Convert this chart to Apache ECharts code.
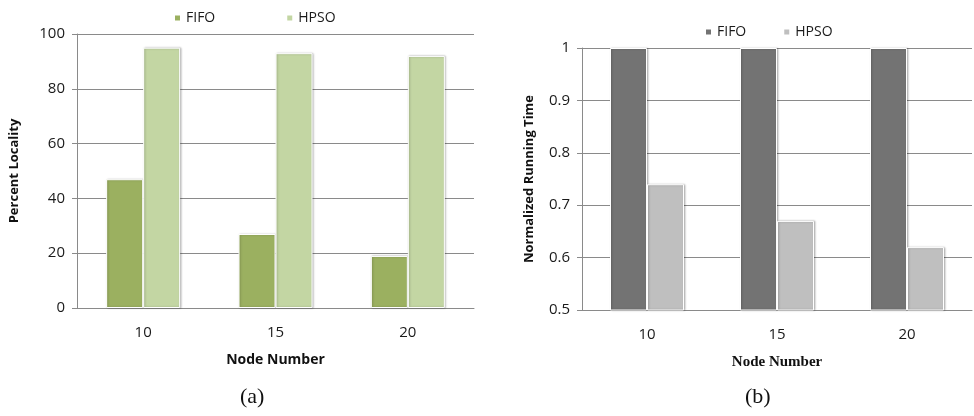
<!DOCTYPE html>
<html>
<head>
<meta charset="utf-8">
<script src="https://cdn.jsdelivr.net/npm/echarts@6/dist/echarts.min.js"></script>
<style>
  html, body { margin: 0; padding: 0; background: #fff; }
  #chart { width: 974px; height: 416px; }
</style>
</head>
<body>
<div id="chart"></div>
<script>
// Node counts on the x axis (shared by both panels)
const nodeCounts = ['10', '15', '20'];

// Panel (a): percent locality
const localityFIFO = [47, 27, 19];
const localityHPSO = [95, 93, 92];

// Panel (b): normalized running time
const runtimeFIFO = [1, 1, 1];
const runtimeHPSO = [0.74, 0.67, 0.62];

const uiFont = '"Open Sans", Lato, sans-serif';
const gridColor = '#8a8a8a';

const chart = echarts.init(document.getElementById('chart'), null, { renderer: 'canvas' });

function barStyle(color) {
  return {
    color: color,
    borderColor: '#ffffff',
    borderWidth: 1,
    shadowColor: 'rgba(0,0,0,0.25)',
    shadowBlur: 2,
    shadowOffsetX: 1
  };
}

function valueAxis(gridIndex, min, max, interval, name, decimals) {
  return {
    type: 'value',
    gridIndex: gridIndex,
    min: min, max: max, interval: interval,
    name: name,
    nameLocation: 'middle',
    nameGap: gridIndex === 0 ? 56 : 46,
    nameTextStyle: { fontFamily: uiFont, fontWeight: 'bold', fontSize: 13, color: '#111' },
    axisLine: { show: true, lineStyle: { color: gridColor, width: 1 } },
    axisTick: { show: true, length: 5, lineStyle: { color: gridColor } },
    axisLabel: {
      fontFamily: uiFont, fontSize: 15, color: '#1a1a1a', margin: 12,
      formatter: v => decimals ? String(+v.toFixed(decimals)) : String(v)
    },
    splitLine: { show: true, lineStyle: { color: gridColor, width: 1 } }
  };
}

function categoryAxis(gridIndex, nameFont) {
  return {
    type: 'category',
    gridIndex: gridIndex,
    data: nodeCounts,
    name: 'Node Number',
    nameLocation: 'middle',
    nameGap: 45,
    nameTextStyle: { fontFamily: nameFont, fontWeight: 'bold', fontSize: gridIndex === 0 ? 14 : 15, color: '#111' },
    axisLine: { show: true, lineStyle: { color: gridColor, width: 1 } },
    axisTick: { show: false },
    axisLabel: { fontFamily: uiFont, fontSize: 15, color: '#1a1a1a', margin: 17 }
  };
}

const legendCommon = {
  icon: 'rect',
  itemWidth: 7,
  itemHeight: 7,
  textStyle: { fontFamily: uiFont, fontSize: 14, color: '#1a1a1a' },
  formatter: n => n.split(' ')[0]
};

const option = {
  animation: false,
  backgroundColor: '#ffffff',
  grid: [
    { left: 77, right: 500, top: 34, bottom: 108 },
    { left: 582, right: 2, top: 48, bottom: 106 }
  ],
  legend: [
    Object.assign({}, legendCommon, { left: 168, top: 6, itemGap: 70, data: ['FIFO (a)', 'HPSO (a)'] }),
    Object.assign({}, legendCommon, { left: 699, top: 20, itemGap: 36, data: ['FIFO (b)', 'HPSO (b)'] })
  ],
  xAxis: [categoryAxis(0, uiFont), categoryAxis(1, '"Liberation Serif", serif')],
  yAxis: [
    valueAxis(0, 0, 100, 20, 'Percent Locality', 0),
    valueAxis(1, 0.5, 1, 0.1, 'Normalized Running Time', 1)
  ],
  series: [
    { name: 'FIFO (a)', type: 'bar', xAxisIndex: 0, yAxisIndex: 0, data: localityFIFO,
      barWidth: 37, barGap: '0%', itemStyle: barStyle('#9bb060') },
    { name: 'HPSO (a)', type: 'bar', xAxisIndex: 0, yAxisIndex: 0, data: localityHPSO,
      barWidth: 37, barGap: '0%', itemStyle: barStyle('#c3d6a3') },
    { name: 'FIFO (b)', type: 'bar', xAxisIndex: 1, yAxisIndex: 1, data: runtimeFIFO,
      barWidth: 37, barGap: '0%', itemStyle: barStyle('#737373') },
    { name: 'HPSO (b)', type: 'bar', xAxisIndex: 1, yAxisIndex: 1, data: runtimeHPSO,
      barWidth: 37, barGap: '0%', itemStyle: barStyle('#bfbfbf') }
  ],
  graphic: [
    { type: 'text', left: 240, top: 386,
      style: { text: '(a)', font: '22px "Liberation Serif", serif', fill: '#111' } },
    { type: 'text', left: 745, top: 386,
      style: { text: '(b)', font: '22px "Liberation Serif", serif', fill: '#111' } }
  ]
};

chart.setOption(option);
</script>
</body>
</html>
